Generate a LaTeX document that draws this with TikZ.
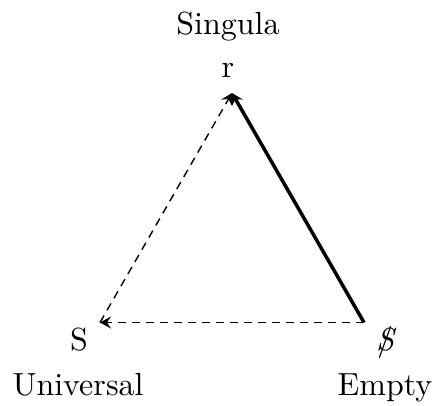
\documentclass[tikz,border=0pt]{standalone}
\usepackage{fontspec}
\setmainfont{lmroman10-regular.otf}[ItalicFont=lmroman10-italic.otf]
\usetikzlibrary{arrows.meta}
\begin{document}
\begin{tikzpicture}[x=1pt,y=1pt,
  lbl/.style={font=\fontsize{32}{43}\selectfont, inner sep=0pt, anchor=base},
  tip/.style={-{Stealth[length=11pt,width=12pt,inset=4pt]}},
  dashline/.style={line width=1.4pt, dash pattern=on 8pt off 6pt, tip},
  solidline/.style={line width=3.5pt, tip}]
\useasboundingbox (0,0) rectangle (433,405);
\node[lbl, align=center] (top) at (228,327) {Singula\\r};
\node[lbl] (uS) at (79,55) {S};
\node[lbl] (eS) at (385,55) {\ooalign{\hfil\itshape S\hfil\cr\hfil/\hfil}};
\node[lbl] (uni) at (78,10) {Universal};
\node[lbl] (emp) at (385,10) {Empty};
\coordinate (T) at (232,312);
\coordinate (L) at (100,82.5);
\coordinate (R) at (364,82.5);
\draw[dashline] (R) -- (L);
\draw[dashline] (L) -- (T);
\draw[solidline] (R) -- (T);
\end{tikzpicture}
\end{document}
